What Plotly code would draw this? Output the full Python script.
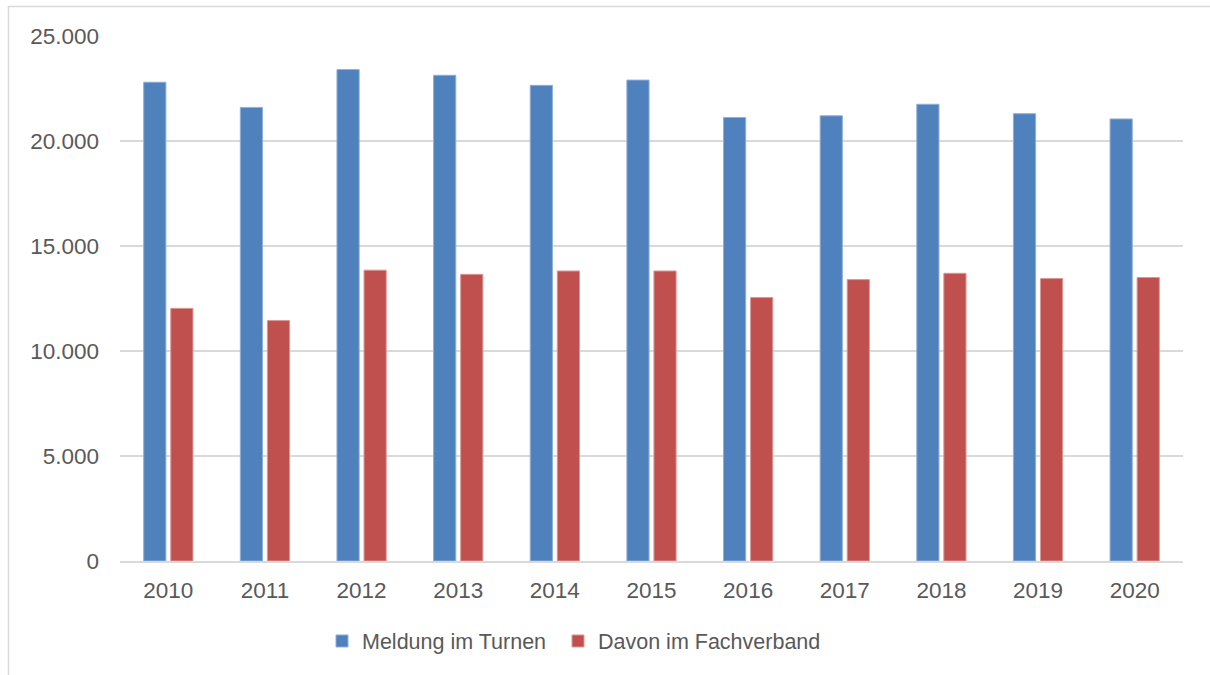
import plotly.graph_objects as go

# Yearly registrations
years = ["2010", "2011", "2012", "2013", "2014", "2015", "2016", "2017", "2018", "2019", "2020"]
meldung_turnen = [22800, 21600, 23400, 23130, 22650, 22900, 21120, 21200, 21750, 21300, 21050]
davon_fachverband = [12030, 11450, 13850, 13650, 13810, 13810, 12550, 13400, 13700, 13450, 13500]

y_ticks = [0, 5000, 10000, 15000, 20000, 25000]

BLUE = "#4F81BD"
RED = "#C0504D"
TEXT = "#595959"
GRID = "#D9D9D9"
FONT = "Liberation Sans, Arial, sans-serif"

fig = go.Figure()
fig.add_trace(go.Bar(
    x=years, y=meldung_turnen, name="Meldung im Turnen", legend="legend",
    marker=dict(color=BLUE, line=dict(color="#8FAEDA", width=1)),
))
fig.add_trace(go.Bar(
    x=years, y=davon_fachverband, name="Davon im Fachverband", legend="legend2",
    marker=dict(color=RED, line=dict(color="#DC9795", width=1)),
))

W, H = 1210, 675
ML, MR, MT, MB = 120, 27, 36, 114
pw = W - ML - MR
ph = H - MT - MB

def px_x(p):
    return (p - ML) / pw

def px_y(p):
    return (H - MB - p) / ph

legend_style = dict(
    orientation="h", xanchor="left",
    y=px_y(641), yanchor="middle",
    font=dict(size=21.5, color=TEXT, family=FONT),
    bgcolor="rgba(0,0,0,0)",
)

fig.update_layout(
    width=W, height=H,
    margin=dict(l=ML, r=MR, t=MT, b=MB),
    paper_bgcolor="white", plot_bgcolor="white",
    barmode="group", bargap=0.44, bargroupgap=0.18,
    separators=",.",
    font=dict(family=FONT, color=TEXT, size=22),
    showlegend=True,
    legend=dict(x=px_x(322), **legend_style),
    legend2=dict(x=px_x(558), **legend_style),
    xaxis=dict(
        showgrid=False, showline=True, linecolor=GRID, linewidth=2,
        tickfont=dict(size=22.5, color=TEXT), ticks="",
        ticklabelstandoff=8,
    ),
    yaxis=dict(
        range=[0, 25000], tickvals=y_ticks, tickformat=",d",
        showgrid=True, gridcolor=GRID, gridwidth=1.5,
        zeroline=False, showline=False,
        tickfont=dict(size=22.5, color=TEXT), ticks="",
        ticklabelstandoff=20,
    ),
)

# Outer chart frame (extends past the right and bottom edges)
fig.add_shape(
    type="rect", xref="paper", yref="paper",
    x0=px_x(8.5), x1=px_x(W + 20), y0=px_y(H + 20), y1=px_y(6.5),
    line=dict(color=GRID, width=1.5), fillcolor="rgba(0,0,0,0)", layer="below",
)

fig.write_html("out.html")
